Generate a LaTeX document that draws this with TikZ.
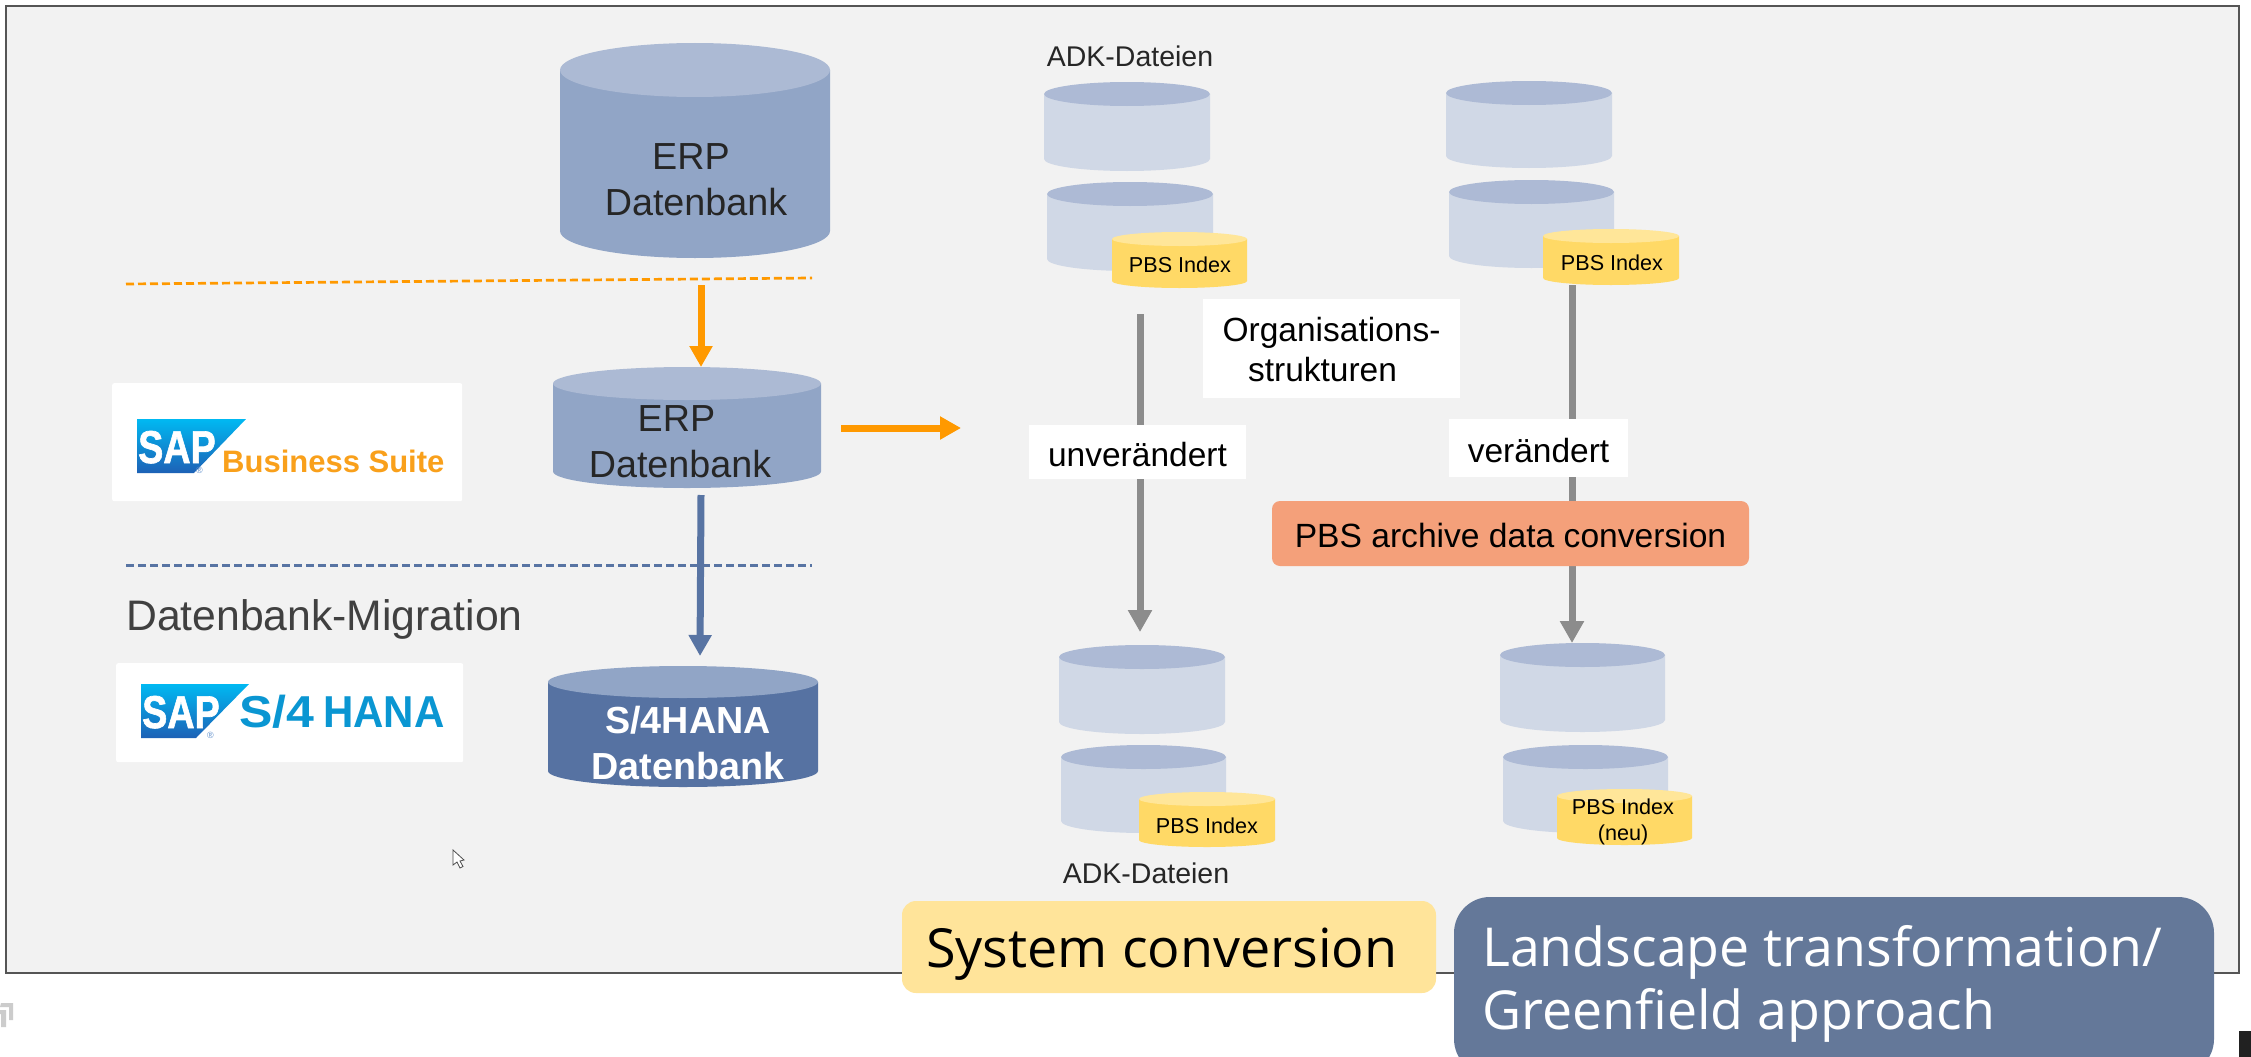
\documentclass[tikz,border=0pt]{standalone}
\usepackage{fontspec}
\setmainfont{Liberation Sans}
\newfontfamily\opensans{Open Sans}
\newfontfamily\heavysans[FakeBold=1.5]{Liberation Sans Bold}
\usetikzlibrary{arrows.meta}
\definecolor{framebg}{HTML}{F2F2F2}
\definecolor{frameln}{HTML}{555555}
\definecolor{midbody}{HTML}{91A5C6}
\definecolor{midtop}{HTML}{ACBAD4}
\definecolor{darkbody}{HTML}{5672A2}
\definecolor{lightbody}{HTML}{D0D8E6}
\definecolor{lighttop}{HTML}{ADBAD5}
\definecolor{yelbody}{HTML}{FFD966}
\definecolor{yeltop}{HTML}{FFE699}
\definecolor{arrorange}{HTML}{FF9900}
\definecolor{bstextcol}{HTML}{F9A01B}
\definecolor{arrblue}{HTML}{5874A3}
\definecolor{arrgray}{HTML}{8C8C8C}
\definecolor{pbsconv}{HTML}{F4A07A}
\definecolor{sysconv}{HTML}{FFE49A}
\definecolor{landsc}{HTML}{647899}
\definecolor{textgray}{HTML}{404040}
\definecolor{textdark}{HTML}{262626}
\definecolor{hanablue}{HTML}{0A96D2}
\definecolor{saptop}{HTML}{00B9F2}
\definecolor{sapbot}{HTML}{1D61B6}
\newcommand\fsz[2]{\fontsize{#1}{#2}\selectfont}
% name, x1, x2, y top centre, y bottom centre, ry, body, top
\newcommand\dbcyl[8]{%
  \pgfmathsetmacro\cylrx{(#3-#2)/2}%
  \fill[#7] (#2,#4) -- (#2,#5) arc[start angle=180,end angle=360,x radius=\cylrx pt,y radius=#6pt] -- (#3,#4) -- cycle;
  \fill[#8] ({(#2+#3)/2},#4) ellipse[x radius=\cylrx pt,y radius=#6pt];
  \node[anchor=north,inner sep=0pt,minimum width={(#3-#2)*1pt},minimum height={(#5-#4+2*#6)*1pt}] (#1) at ({(#2+#3)/2},#4-#6) {};
}
% logo wedge: x1, x2 top right, x3 bottom right, y top, y bottom, name, back-space of the registered mark
\newcommand\sapwedge[7]{%
  \shade[top color=saptop,bottom color=sapbot] (#1,#4) -- (#2,#4) -- (#3,#5) -- (#1,#5) -- cycle;
  \node[sapword,anchor=base west] (#6) at (#1+1,#5-10) {\scalebox{0.82}[1]{SAP}\llap{\raisebox{-10pt}{\textcolor{sapbot!70}{\fsz{9}{9}\selectfont\rmfamily ®}}\hspace*{#7pt}}};
}
\tikzset{
  lbl/.style={inner sep=0pt,text=black},
  filelbl/.style={inner sep=0pt,text=textdark,font=\fsz{28.5}{34}},
  pbslbl/.style={inner sep=0pt,text=black,font=\fsz{21.6}{26},align=center},
  dblbl/.style={inner sep=0pt,text=textdark,font=\fsz{37.7}{46},align=center},
  whitebox/.style={fill=white,inner sep=0pt,font=\fsz{33.5}{40},align=center,text=black},
  logobox/.style={fill=white,rounded corners=2pt,inner sep=0pt},
  sapword/.style={inner sep=0pt,text=white,font=\heavysans\fsz{46}{46}},
  pipe/.style={line width=7pt,arrgray,-{Triangle[length=22pt,width=23pt]}},
  oarrow/.style={line width=7pt,arrorange,-{Triangle[length=21pt,width=22pt]}},
  barrow/.style={line width=7pt,arrblue,-{Triangle[length=21pt,width=22pt]}},
  odash/.style={line width=2.7pt,arrorange,dash pattern=on 8pt off 4pt},
  bdash/.style={line width=2.7pt,arrblue,dash pattern=on 8pt off 4pt},
}
\begin{document}
\begin{tikzpicture}[x=1pt,y=-1pt]
\useasboundingbox (0,0) rectangle (2251,1057);
\fill[white] (0,0) rectangle (2251,1057);
\filldraw[fill=framebg,draw=frameln,line width=1.6pt] (6,6) rectangle (2239,973);

% corner icon and mouse pointer
\fill[black!20] (1,1003) -- (13,1003) -- (13,1020) -- (9,1020) -- (9,1007) -- (0,1007) -- cycle;
\fill[black!20] (0,1010) -- (6,1010) -- (6,1027) -- (1,1027) -- (1,1014) -- (0,1014) -- cycle;
\filldraw[fill=white,draw=black!70,line width=0.8pt] (453,850) -- (453,865) -- (457,862) -- (460,868) -- (463,866.5) -- (460,861) -- (464,860) -- cycle;

% dashed separators
\coordinate (od1) at (126,284); \coordinate (od2) at (812,278);
\coordinate (bd1) at (126,565.5); \coordinate (bd2) at (812,565.5);
\draw[odash] (od1) -- (od2);
\draw[bdash] (bd1) -- (bd2);

% ERP / HANA cylinders
\dbcyl{erpbig}{560}{830}{70}{231}{27}{midbody}{midtop}
\dbcyl{erpmid}{553}{821}{383.5}{471.5}{16.5}{midbody}{midtop}
\dbcyl{hana}{548}{818}{682}{771}{16}{darkbody}{midbody}
\node[dblbl] (erpbigt) at (696,180) {ERP\hspace*{10pt}\\Datenbank};
\node[dblbl] (erpmidt) at (680,442) {ERP\hspace*{7pt}\\Datenbank};
\node[dblbl,text=white,font=\bfseries\fsz{37.7}{46}] (hanat) at (688,743) {S/4HANA\\Datenbank};

% logos
\node[logobox,anchor=north west,minimum width=350pt,minimum height=118pt] (bslogo) at (112,383) {};
\node[logobox,anchor=north west,minimum width=347pt,minimum height=99pt] (s4logo) at (116,663) {};
\sapwedge{137}{246}{194}{419}{473}{sapa}{13}
\sapwedge{141}{249}{196}{684}{738}{sapb}{6}
\node[inner sep=0pt,anchor=base west,text=bstextcol,font=\bfseries\fsz{31}{31}] (bstext) at (222,472) {Business Suite};
\node[inner sep=0pt,anchor=base west,text=hanablue,font=\bfseries\fsz{44.7}{44}] (hanatext) at (239,727) {\scalebox{1.12}[1]{S/4}};
\node[inner sep=0pt,anchor=base west,text=hanablue,font=\bfseries\fsz{44.7}{44}] (hanatextb) at (323,727) {\scalebox{0.94}[1]{HANA}};
\node[inner sep=0pt,anchor=base west,text=textgray,font=\fsz{42.7}{50}] (dbmig) at (126,630) {Datenbank-Migration};

% arrows left
\coordinate (oa1) at (701,285);
\coordinate (oa2) at (841,428);
\coordinate (oa3) at (961,428);
\coordinate (ba1) at (701,495);
\coordinate (ba2) at (700,656);
\draw[oarrow] (oa1) -- (erpmid.north -| oa1);
\draw[oarrow] (oa2) -- (oa3);
\draw[barrow] (ba1) -- (ba2);

% file cylinders
\dbcyl{afile}{1044}{1210}{94}{159}{12}{lightbody}{lighttop}
\dbcyl{bfile}{1047}{1213}{194}{259}{12}{lightbody}{lighttop}
\dbcyl{apbs}{1112}{1247}{239}{281}{7}{yelbody}{yeltop}
\dbcyl{cfile}{1446}{1612}{93}{156}{12}{lightbody}{lighttop}
\dbcyl{dfile}{1449}{1614}{192}{256}{12}{lightbody}{lighttop}
\dbcyl{bpbs}{1543}{1679}{236}{278}{7}{yelbody}{yeltop}
\dbcyl{efile}{1059}{1225}{657}{722}{12}{lightbody}{lighttop}
\dbcyl{ffile}{1061}{1226}{757}{821}{12}{lightbody}{lighttop}
\dbcyl{cpbs}{1139}{1275}{799}{840}{7}{yelbody}{yeltop}
\dbcyl{gfile}{1500}{1665}{655}{720}{12}{lightbody}{lighttop}
\dbcyl{hfile}{1503}{1668}{757}{821}{12}{lightbody}{lighttop}
\dbcyl{dpbs}{1557}{1692}{796}{838}{7}{yelbody}{yeltop}

% grey connectors
\coordinate (ga) at (1140,314);
\coordinate (gae) at (1140,632);
\coordinate (gb) at (1572,300);
\draw[pipe] (ga) -- (gae);
\draw[pipe] (gb |- bpbs.south) -- (gfile.north -| gb);

% labels
\node[pbslbl] (apbst) at (1180,265) {PBS Index};
\node[pbslbl] (bpbst) at (1612,263) {PBS Index};
\node[pbslbl] (cpbst) at (1207,826) {PBS Index};
\node[pbslbl] (dpbst) at (1623,822) {PBS Index\\(neu)};
\node[filelbl] (adk1) at (1130,56) {ADK-Dateien};
\node[filelbl] (adk2) at (1146,873) {ADK-Dateien};

\node[fill=white,inner sep=0pt,minimum width=257pt,minimum height=99pt] (orgbox) at (1331.5,348.5) {};
\node[inner sep=0pt,font=\fsz{33.5}{40},align=center,text=black] (orgtext) at (1331.5,350) {Organisations-\\strukturen\hspace*{18pt}};
\node[whitebox,minimum width=217pt,minimum height=54pt,text height=28pt,text depth=0pt] (unv) at (1137.5,452) {unverändert};
\node[whitebox,minimum width=179pt,minimum height=58pt,text height=28pt,text depth=0pt] (ver) at (1538.5,448) {verändert};
\node[fill=pbsconv,rounded corners=8pt,inner sep=0pt,minimum width=477pt,minimum height=65pt,font=\fsz{33.6}{40},text=black,text height=27pt,text depth=0pt] (pbsc) at (1510.5,533.5) {PBS archive data conversion};

% approach boxes
\node[fill=sysconv,rounded corners=14pt,inner sep=0pt,minimum width=534pt,minimum height=92pt] (sysc) at (1169,947) {};
\node[inner sep=0pt,anchor=base west,font=\opensans\fsz{53.9}{64},text=black] (syst) at (926,967) {System conversion};
\fill[landsc,rounded corners=36pt] (1454,897) rectangle (2214,1075);
\node[inner sep=0pt,anchor=base west,align=left,text=white,font=\opensans\fsz{53.7}{64}] (land1) at (1482,966) {Landscape transformation/};
\node[inner sep=0pt,anchor=base west,align=left,text=white,font=\opensans\fsz{53.7}{64}] (land2) at (1482,1029.5) {Greenfield approach};
\fill[black!87] (2239,1031) rectangle (2251,1057);
\end{tikzpicture}
\end{document}
